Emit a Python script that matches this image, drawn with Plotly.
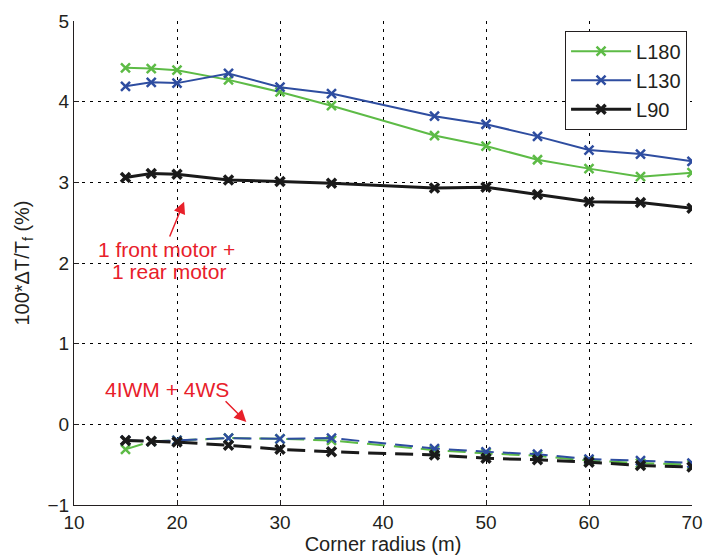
import plotly.graph_objects as go

radius = [15, 17.5, 20, 25, 30, 35, 45, 50, 55, 60, 65, 70]

# 1 front motor + 1 rear motor (solid)
l180_solid = [4.42, 4.41, 4.39, 4.27, 4.12, 3.95, 3.58, 3.45, 3.28, 3.17, 3.07, 3.12]
l130_solid = [4.19, 4.24, 4.23, 4.35, 4.18, 4.10, 3.82, 3.72, 3.57, 3.40, 3.35, 3.26]
l90_solid = [3.06, 3.11, 3.10, 3.03, 3.01, 2.99, 2.93, 2.94, 2.85, 2.76, 2.75, 2.68]

# 4IWM + 4WS (dashed)
l180_dash = [-0.31, -0.21, -0.20, -0.17, -0.18, -0.20, -0.32, -0.36, -0.39, -0.45, -0.48, -0.50]
l130_dash = [-0.20, -0.21, -0.20, -0.17, -0.18, -0.17, -0.30, -0.34, -0.37, -0.43, -0.45, -0.48]
l90_dash = [-0.20, -0.21, -0.22, -0.26, -0.31, -0.34, -0.38, -0.42, -0.44, -0.47, -0.51, -0.53]

names = ["L180", "L130", "L90"]
colors = ["#5DBB46", "#2E4DA0", "#1A1A1A"]
widths = [2, 2, 3]

FONT = "Liberation Sans, Arial, sans-serif"
TXT = "#231F20"
fig = go.Figure()

for name, col, w, ys in zip(names, colors, widths, [l180_solid, l130_solid, l90_solid]):
    fig.add_trace(go.Scatter(
        x=radius, y=ys, name=name, mode="lines+markers",
        line=dict(color=col, width=w),
        marker=dict(symbol="x-thin", size=9, line=dict(color=col, width=w + 0.5)),
    ))
for name, col, w, ys in zip(names, colors, widths, [l180_dash, l130_dash, l90_dash]):
    fig.add_trace(go.Scatter(
        x=radius, y=ys, name=name, mode="lines+markers", showlegend=False,
        line=dict(color=col, width=w, dash="18px,9px"),
        marker=dict(symbol="x-thin", size=9, line=dict(color=col, width=w + 0.5)),
    ))

red = "#E8202A"
afont = dict(color=red, size=21, family=FONT)
fig.add_annotation(x=18.97, y=2.167, text="1 front motor +", showarrow=False, font=afont)
fig.add_annotation(x=19.24, y=1.893, text="1 rear motor", showarrow=False, font=afont)
fig.add_annotation(x=20.69, y=2.76, ax=19.23, ay=2.31, axref="x", ayref="y",
                   text="", showarrow=True, arrowhead=2, arrowsize=1.6, arrowwidth=1.5, arrowcolor=red)
fig.add_annotation(x=19.07, y=0.43, text="4IWM + 4WS", showarrow=False, font=afont)
fig.add_annotation(x=26.73, y=0.03, ax=24.57, ay=0.305, axref="x", ayref="y",
                   text="", showarrow=True, arrowhead=2, arrowsize=1.6, arrowwidth=1.5, arrowcolor=red)

axis_common = dict(
    showline=True, linecolor=TXT, linewidth=1, mirror=False,
    ticks="inside", ticklen=5, tickcolor=TXT,
    showgrid=True, gridcolor="#000000", griddash="dot", gridwidth=1,
    zeroline=False, tickfont=dict(size=19, color=TXT, family=FONT),
)
fig.update_xaxes(range=[10, 70], dtick=10, tick0=10,
                 title=dict(text="Corner radius (m)", font=dict(size=20, family=FONT, color=TXT), standoff=2),
                 **axis_common)
fig.update_yaxes(range=[-1, 5], dtick=1,
                 title=dict(text="100*ΔT/T<sub>f</sub> (%)", font=dict(size=20, family=FONT, color=TXT), standoff=12),
                 **axis_common)
fig.update_yaxes(griddash="3px,5px")
fig.update_xaxes(griddash="3px,5px")

fig.update_layout(
    width=714, height=560,
    margin=dict(l=74, r=11, t=12, b=50),
    plot_bgcolor="white", paper_bgcolor="white",
    font=dict(family=FONT, color=TXT),
    legend=dict(x=0.992, y=0.98, xanchor="right", yanchor="top", bgcolor="white",
                bordercolor=TXT, borderwidth=1, font=dict(size=20, family=FONT, color=TXT),
                tracegroupgap=0, itemwidth=60),
)

fig.write_html("out.html")
